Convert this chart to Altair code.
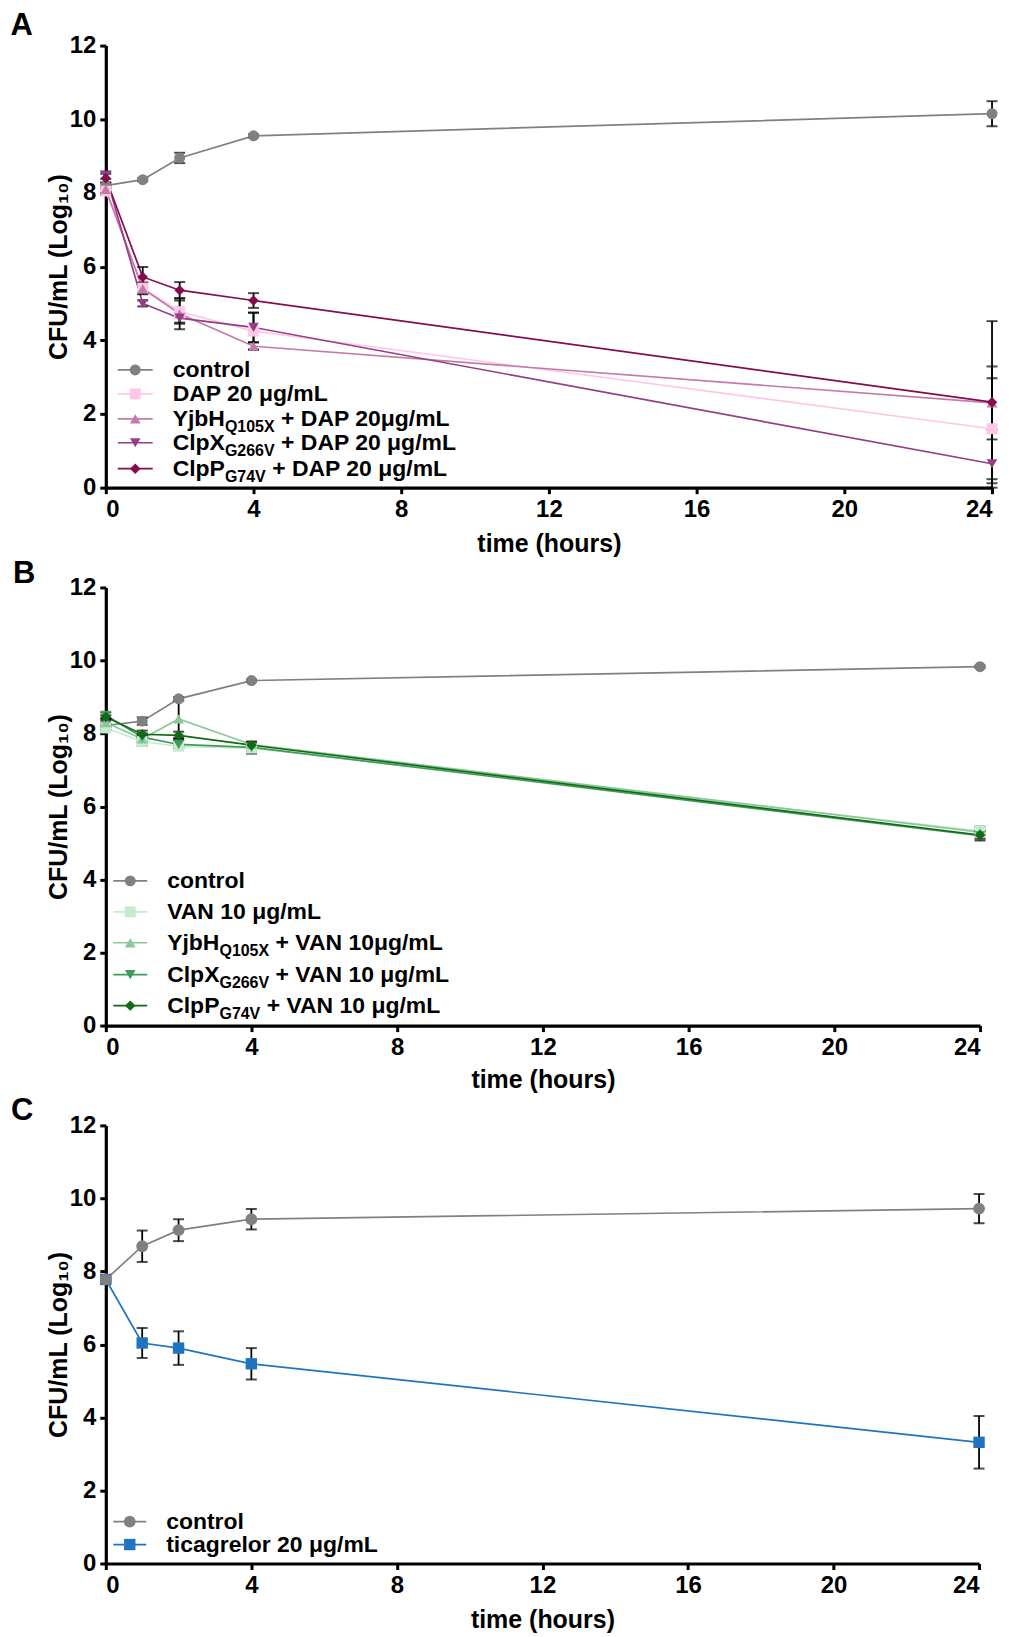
import altair as alt
import pandas as pd

# ---------------- data ----------------
TIMES = [0, 1, 2, 4, 24]

# Panel A
A_SERIES = ["control", "DAP", "YjbH_DAP", "ClpX_DAP", "ClpP_DAP"]
A_MAIN = ["control", "DAP 20 μg/mL", "YjbH", "ClpX", "ClpP"]
A_SUB = ["", "", "Q105X", "G266V", "G74V"]
A_REST = ["", "", "+ DAP 20μg/mL", "+ DAP 20 μg/mL", "+ DAP 20 μg/mL"]
A_MEAN = {
    "control":  [8.20, 8.36, 8.95, 9.55, 10.15],
    "DAP":      [8.05, 5.42, 4.78, 4.25, 1.60],
    "YjbH_DAP": [8.10, 5.40, 4.72, 3.84, 2.30],
    "ClpX_DAP": [8.48, 5.00, 4.60, 4.35, 0.65],
    "ClpP_DAP": [8.40, 5.72, 5.36, 5.08, 2.32],
}
A_ERR = {
    "control":  [0.08, 0.04, 0.14, 0.04, 0.34],
    "DAP":      [0.10, 0.15, 0.30, 0.50, 1.37],
    "YjbH_DAP": [0.10, 0.15, 0.42, 0.10, 0.99],
    "ClpX_DAP": [0.10, 0.08, 0.15, 0.40, 0.92],
    "ClpP_DAP": [0.12, 0.27, 0.22, 0.20, 2.20],
}
A_COLORS = ["#808080", "#FFC6E6", "#C47AA8", "#933E85", "#870A4C"]

# Panel B
B_SERIES = ["control", "VAN", "YjbH_VAN", "ClpX_VAN", "ClpP_VAN"]
B_MAIN = ["control", "VAN 10 μg/mL", "YjbH", "ClpX", "ClpP"]
B_SUB = ["", "", "Q105X", "G266V", "G74V"]
B_REST = ["", "", "+ VAN 10μg/mL", "+ VAN 10 μg/mL", "+ VAN 10 μg/mL"]
B_MEAN = {
    "control":  [8.22, 8.34, 8.95, 9.45, 9.83],
    "VAN":      [8.15, 7.78, 7.65, 7.60, 5.33],
    "YjbH_VAN": [8.30, 7.85, 8.40, 7.70, 5.30],
    "ClpX_VAN": [8.50, 7.90, 7.70, 7.62, 5.20],
    "ClpP_VAN": [8.45, 7.98, 7.95, 7.68, 5.22],
}
B_ERR = {
    "control":  [0.05, 0.10, 0.05, 0.03, 0.03],
    "VAN":      [0.05, 0.12, 0.05, 0.15, 0.12],
    "YjbH_VAN": [0.05, 0.10, 0.52, 0.05, 0.05],
    "ClpX_VAN": [0.08, 0.10, 0.10, 0.10, 0.13],
    "ClpP_VAN": [0.05, 0.10, 0.10, 0.10, 0.10],
}
B_COLORS = ["#808080", "#C5EBCF", "#8CC79B", "#3F9C58", "#0F6B14"]

# Panel C
C_SERIES = ["TIC", "control"]
C_MAIN = ["ticagrelor 20 μg/mL", "control"]
C_SUB = ["", ""]
C_REST = ["", ""]
C_MEAN = {
    "control": [7.78, 8.69, 9.13, 9.43, 9.72],
    "TIC":     [7.78, 6.04, 5.90, 5.47, 3.32],
}
C_ERR = {
    "control": [0.05, 0.43, 0.30, 0.28, 0.40],
    "TIC":     [0.05, 0.41, 0.46, 0.43, 0.72],
}
C_COLORS = ["#1F74BF", "#808080"]

SHAPES5 = ["circle", "square", "triangle-up", "triangle-down", "diamond"]
SIZES5 = [120, 110, 95, 95, 70]

FONT = "Liberation Sans"

# Arial/Liberation Sans Bold advance widths (per 1000 em)
AW = {" ": 278, "+": 584, "/": 278, "0": 556, "1": 556, "2": 556, "3": 556, "4": 556,
      "5": 556, "6": 556, "7": 556, "8": 556, "9": 556, "A": 722, "C": 722, "D": 722,
      "G": 778, "H": 722, "L": 611, "N": 722, "P": 667, "Q": 778, "V": 667, "X": 667,
      "Y": 667, "a": 556, "b": 611, "c": 556, "e": 556, "g": 611, "i": 278, "j": 278,
      "l": 278, "m": 889, "n": 611, "o": 611, "p": 611, "r": 389, "t": 333, "μ": 611}


def textw(s, fs):
    return sum(AW.get(ch, 600) for ch in s) * fs / 1000.0


LEG_FS = 23
SUB_FS = 16


def panel(series, mean, err, colors, shapes, sizes, main, sub, rest, letter,
          width, height, leg_rows, leg_line, leg_mark, leg_text, letter_xy, xtitle_y):
    rows = []
    for s in series:
        for t, m, e in zip(TIMES, mean[s], err[s]):
            rows.append(dict(series=s, time=t, mean=m, lo=max(0.0, m - e), hi=m + e))
    df = pd.DataFrame(rows)

    color = alt.Color("series:N", scale=alt.Scale(domain=series, range=colors), legend=None)
    shape = alt.Shape("series:N", scale=alt.Scale(domain=series, range=shapes), legend=None)
    size = alt.Size("series:N", scale=alt.Scale(domain=series, range=sizes), legend=None)

    x = alt.X("time:Q", scale=alt.Scale(domain=[0, 24], nice=False, zero=False),
              axis=alt.Axis(values=[0, 4, 8, 12, 16, 20, 24], title="time (hours)",
                            titleY=xtitle_y, titleBaseline="middle"))
    y = alt.Y("mean:Q", scale=alt.Scale(domain=[0, 12], nice=False),
              axis=alt.Axis(values=list(range(0, 13, 2)), title="CFU/mL (Log₁₀)",
                            titleX=-47, titleBaseline="middle"))
    xs = alt.X("time:Q")
    base = alt.Chart(df)

    lines = base.mark_line(strokeWidth=1.7).encode(x=x, y=y, color=color)
    bars = base.mark_rule(color="black", strokeWidth=1.8).encode(x=xs, y="lo:Q", y2="hi:Q")
    cap_lo = base.mark_tick(color="black", orient="horizontal", size=11, thickness=2).encode(x=xs, y="lo:Q")
    cap_hi = base.mark_tick(color="black", orient="horizontal", size=11, thickness=2).encode(x=xs, y="hi:Q")
    pts = base.mark_point(filled=True, opacity=1).encode(x=xs, y="mean:Q", color=color, shape=shape, size=size)

    # custom legend
    gap = textw(" ", LEG_FS)
    lrows = []
    for s, mn, sb, rs, ly in zip(series, main, sub, rest, leg_rows):
        wm = textw(mn, LEG_FS)
        ws = textw(sb, SUB_FS)
        lrows.append(dict(series=s, ly=ly, sy=ly + 8, main=mn, sub=sb, rest=rs,
                          sx=leg_text + wm, rx=leg_text + wm + ws + gap))
    ldf = pd.DataFrame(lrows)
    lbase = alt.Chart(ldf)
    ly = alt.Y("ly:Q", scale=None, axis=None)
    lrule = lbase.mark_rule(strokeWidth=1.7).encode(
        x=alt.value(leg_line[0]), x2=alt.value(leg_line[1]), y=ly, color=color)
    lpt = lbase.mark_point(filled=True, opacity=1).encode(
        x=alt.value(leg_mark), y=ly, color=color, shape=shape, size=size)
    tstyle = dict(font=FONT, fontWeight="bold", color="black", align="left", baseline="middle")
    lmain = lbase.mark_text(fontSize=LEG_FS, **tstyle).encode(
        x=alt.value(leg_text), y=ly, text="main:N")
    lsub = lbase.mark_text(fontSize=SUB_FS, **tstyle).encode(
        x=alt.X("sx:Q", scale=None, axis=None), y=alt.Y("sy:Q", scale=None, axis=None), text="sub:N")
    lrest = lbase.mark_text(fontSize=LEG_FS, **tstyle).encode(
        x=alt.X("rx:Q", scale=None, axis=None), y=ly, text="rest:N")

    let = alt.Chart(pd.DataFrame({"t": [letter]})).mark_text(
        font=FONT, fontWeight="bold", fontSize=31, color="black", align="left",
        baseline="alphabetic").encode(text="t:N", x=alt.value(letter_xy[0]), y=alt.value(letter_xy[1]))

    return alt.layer(lines, bars, cap_lo, cap_hi, pts, lrule, lpt, lmain, lsub, lrest, let).properties(
        width=width, height=height)


pA = panel(A_SERIES, A_MEAN, A_ERR, A_COLORS, SHAPES5, SIZES5, A_MAIN, A_SUB, A_REST, "A",
           888, 443, [325, 349, 374, 398, 424], (12, 47), 29.5, 67, (-95.5, -10.6), 56)
pB = panel(B_SERIES, B_MEAN, B_ERR, B_COLORS, SHAPES5, SIZES5, B_MAIN, B_SUB, B_REST, "B",
           876, 439, [294, 325, 356, 388, 419], (7.5, 41.5), 24.5, 61.5, (-93, -4), 54.5)
pC = panel(C_SERIES, C_MEAN, C_ERR, C_COLORS, ["square", "circle"], [130, 140], C_MAIN, C_SUB, C_REST, "C",
           875, 439, [420, 397], (7.5, 40.5), 24, 60.5, (-95, -5), 56.5)

chart = alt.vconcat(pA, pB, pC, spacing=2).resolve_scale(
    color="independent", shape="independent", size="independent"
).properties(
    padding={"left": 2, "top": 0, "right": 5, "bottom": 2}
).configure_axis(
    domainWidth=3.2, domainColor="black", tickColor="black", tickWidth=3, tickSize=6,
    labelFont=FONT, labelFontWeight="bold", labelFontSize=24, labelColor="black", labelPadding=4,
    titleFont=FONT, titleFontWeight="bold", titleFontSize=25, titleColor="black", grid=False
).configure_view(stroke=None)

chart.save("out.html", embed_options={"renderer": "svg", "actions": False})
